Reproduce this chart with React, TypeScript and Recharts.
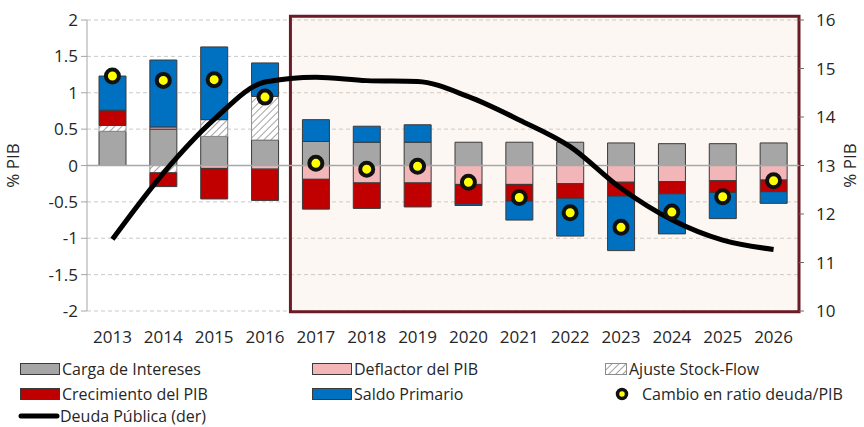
import React from "react";
import {
  Bar,
  CartesianGrid,
  ComposedChart,
  Line,
  ReferenceArea,
  ReferenceLine,
  XAxis,
  YAxis,
} from "recharts";

document.body.style.margin = "0";

const years = [
  "2013", "2014", "2015", "2016", "2017", "2018", "2019",
  "2020", "2021", "2022", "2023", "2024", "2025", "2026",
];
const cargaIntereses = [0.47, 0.5, 0.4, 0.35, 0.33, 0.32, 0.32, 0.32, 0.32, 0.32, 0.31, 0.3, 0.3, 0.31];
const deflactorPib = [0, 0.03, -0.04, -0.05, -0.19, -0.24, -0.24, -0.26, -0.26, -0.25, -0.23, -0.22, -0.21, -0.2];
const ajusteStockFlow = [0.08, -0.1, 0.23, 0.6, 0, 0, 0, 0, 0, 0, 0, 0, 0, 0];
const crecimientoPib = [0.21, -0.19, -0.42, -0.43, -0.41, -0.35, -0.33, -0.27, -0.23, -0.2, -0.19, -0.17, -0.16, -0.16];
const saldoPrimario = [0.47, 0.92, 1.0, 0.46, 0.3, 0.22, 0.24, -0.02, -0.26, -0.52, -0.75, -0.55, -0.36, -0.16];
const cambioRatio = [1.23, 1.17, 1.18, 0.94, 0.03, -0.05, -0.01, -0.23, -0.44, -0.65, -0.85, -0.64, -0.43, -0.21];
const deudaPublica = [11.48, 12.84, 13.95, 14.72, 14.82, 14.75, 14.73, 14.42, 13.94, 13.39, 12.53, 11.88, 11.46, 11.27];

const leftTicks = [-2, -1.5, -1, -0.5, 0, 0.5, 1, 1.5, 2];
const rightTicks = [10, 11, 12, 13, 14, 15, 16];

const data = years.map((year, i) => ({
  year,
  intereses: cargaIntereses[i],
  deflactor: deflactorPib[i],
  stockFlow: ajusteStockFlow[i],
  crecimiento: crecimientoPib[i],
  saldo: saldoPrimario[i],
  cambio: cambioRatio[i],
  deuda: deudaPublica[i],
}));

const GRAY = "#a6a6a6";
const PINK = "#f2b6b9";
const RED = "#c00000";
const BLUE = "#0070c0";
const TEXT = "#262626";
const EDGE = "#3a3a3a";

const tickStyle = { fill: TEXT, fontSize: 17 };

function Swatch({ fill }: { fill: string }) {
  return (
    <span
      style={{
        display: "inline-block",
        width: 38,
        height: 10,
        background: fill,
        border: `1px solid ${EDGE}`,
        marginRight: 2,
      }}
    />
  );
}

function LegendItem({
  left,
  top,
  icon,
  label,
}: {
  left: number;
  top: number;
  icon: React.ReactNode;
  label: string;
}) {
  return (
    <div
      style={{
        position: "absolute",
        left,
        top,
        display: "flex",
        alignItems: "center",
        fontSize: 16,
        lineHeight: "20px",
        color: TEXT,
        whiteSpace: "nowrap",
      }}
    >
      {icon}
      {label}
    </div>
  );
}

export default function App() {
  return (
    <div
      style={{
        position: "relative",
        width: 864,
        height: 427,
        background: "#fff",
        fontFamily: "'Open Sans', 'Noto Sans', sans-serif",
      }}
    >
      <ComposedChart
        width={864}
        height={352}
        data={data}
        stackOffset="sign"
        barSize={27}
        margin={{ top: 20, right: 0, bottom: 11, left: 0 }}
      >
        <defs>
          <pattern
            id="hatch"
            patternUnits="userSpaceOnUse"
            width={5}
            height={5}
            patternTransform="rotate(45)"
          >
            <rect width={5} height={5} fill="#ffffff" />
            <line x1={0} y1={0} x2={0} y2={5} stroke="#8c8c8c" strokeWidth={1.6} />
          </pattern>
        </defs>
        <CartesianGrid
          yAxisId="left"
          vertical={false}
          stroke="#c9c9c9"
          strokeDasharray="4 3"
        />
        <XAxis
          dataKey="year"
          axisLine={false}
          tickLine={false}
          tick={tickStyle}
          tickMargin={14}
          height={30}
          interval={0}
        />
        <YAxis
          yAxisId="left"
          domain={[-2, 2]}
          ticks={leftTicks}
          width={87}
          tick={tickStyle}
          axisLine={{ stroke: GRAY }}
          tickLine={{ stroke: GRAY }}
          tickSize={6}
          tickMargin={3}
          label={{
            value: "% PIB",
            angle: -90,
            position: "insideLeft",
            dx: 8,
            style: { textAnchor: "middle", fill: TEXT, fontSize: 17 },
          }}
        />
        <YAxis
          yAxisId="right"
          orientation="right"
          domain={[10, 16]}
          ticks={rightTicks}
          width={65}
          tick={tickStyle}
          axisLine={false}
          tickLine={{ stroke: "#6b6b6b" }}
          tickSize={5}
          tickMargin={12}
          label={{
            value: "% PIB",
            angle: -90,
            position: "insideRight",
            dx: -9,
            style: { textAnchor: "middle", fill: TEXT, fontSize: 17 },
          }}
        />
        <ReferenceLine yAxisId="left" y={0} stroke={GRAY} strokeWidth={1.5} />
        <Bar yAxisId="left" dataKey="intereses" stackId="a" fill={GRAY} stroke={EDGE} strokeWidth={1} isAnimationActive={false} />
        <Bar yAxisId="left" dataKey="deflactor" stackId="a" fill={PINK} stroke={EDGE} strokeWidth={1} isAnimationActive={false} />
        <Bar yAxisId="left" dataKey="stockFlow" stackId="a" fill="url(#hatch)" stroke="#8c8c8c" strokeWidth={1} isAnimationActive={false} />
        <Bar yAxisId="left" dataKey="crecimiento" stackId="a" fill={RED} stroke={EDGE} strokeWidth={1} isAnimationActive={false} />
        <Bar yAxisId="left" dataKey="saldo" stackId="a" fill={BLUE} stroke={EDGE} strokeWidth={1} isAnimationActive={false} />
        <Line
          yAxisId="right"
          dataKey="deuda"
          type="monotone"
          stroke="#000"
          strokeWidth={5}
          dot={false}
          activeDot={false}
          isAnimationActive={false}
        />
        <ReferenceArea
          yAxisId="left"
          x1="2017"
          x2="2026"
          y1={-2.01}
          y2={2.05}
          fill="#f1cebe"
          fillOpacity={0.17}
          stroke="#6b1b26"
          strokeWidth={3}
          strokeOpacity={1}
          ifOverflow="visible"
        />
        <Line
          yAxisId="left"
          dataKey="cambio"
          stroke="none"
          dot={{ r: 6.5, fill: "#ffff00", stroke: "#111", strokeWidth: 4 }}
          activeDot={false}
          isAnimationActive={false}
        />
      </ComposedChart>
      <LegendItem left={20} top={359} icon={<Swatch fill={GRAY} />} label="Carga de Intereses" />
      <LegendItem left={312} top={359} icon={<Swatch fill={PINK} />} label="Deflactor del PIB" />
      <LegendItem
        left={605}
        top={359}
        icon={
          <svg width={22} height={12} style={{ marginRight: 2 }}>
            <rect x={0.5} y={0.5} width={21} height={11} fill="url(#hatch)" stroke="#8c8c8c" />
          </svg>
        }
        label="Ajuste Stock-Flow"
      />
      <LegendItem left={20} top={384} icon={<Swatch fill={RED} />} label="Crecimiento del PIB" />
      <LegendItem left={312} top={384} icon={<Swatch fill={BLUE} />} label="Saldo Primario" />
      <LegendItem
        left={614}
        top={384}
        icon={
          <svg width={18} height={16} style={{ marginRight: 10 }}>
            <circle cx={8} cy={8} r={4.5} fill="#ffff00" stroke="#111" strokeWidth={3.5} />
          </svg>
        }
        label="Cambio en ratio deuda/PIB"
      />
      <LegendItem
        left={18}
        top={406}
        icon={
          <svg width={42} height={12} style={{ marginRight: 0 }}>
            <line x1={3} y1={6} x2={39} y2={6} stroke="#000" strokeWidth={5} strokeLinecap="round" />
          </svg>
        }
        label="Deuda Pública (der)"
      />
    </div>
  );
}
